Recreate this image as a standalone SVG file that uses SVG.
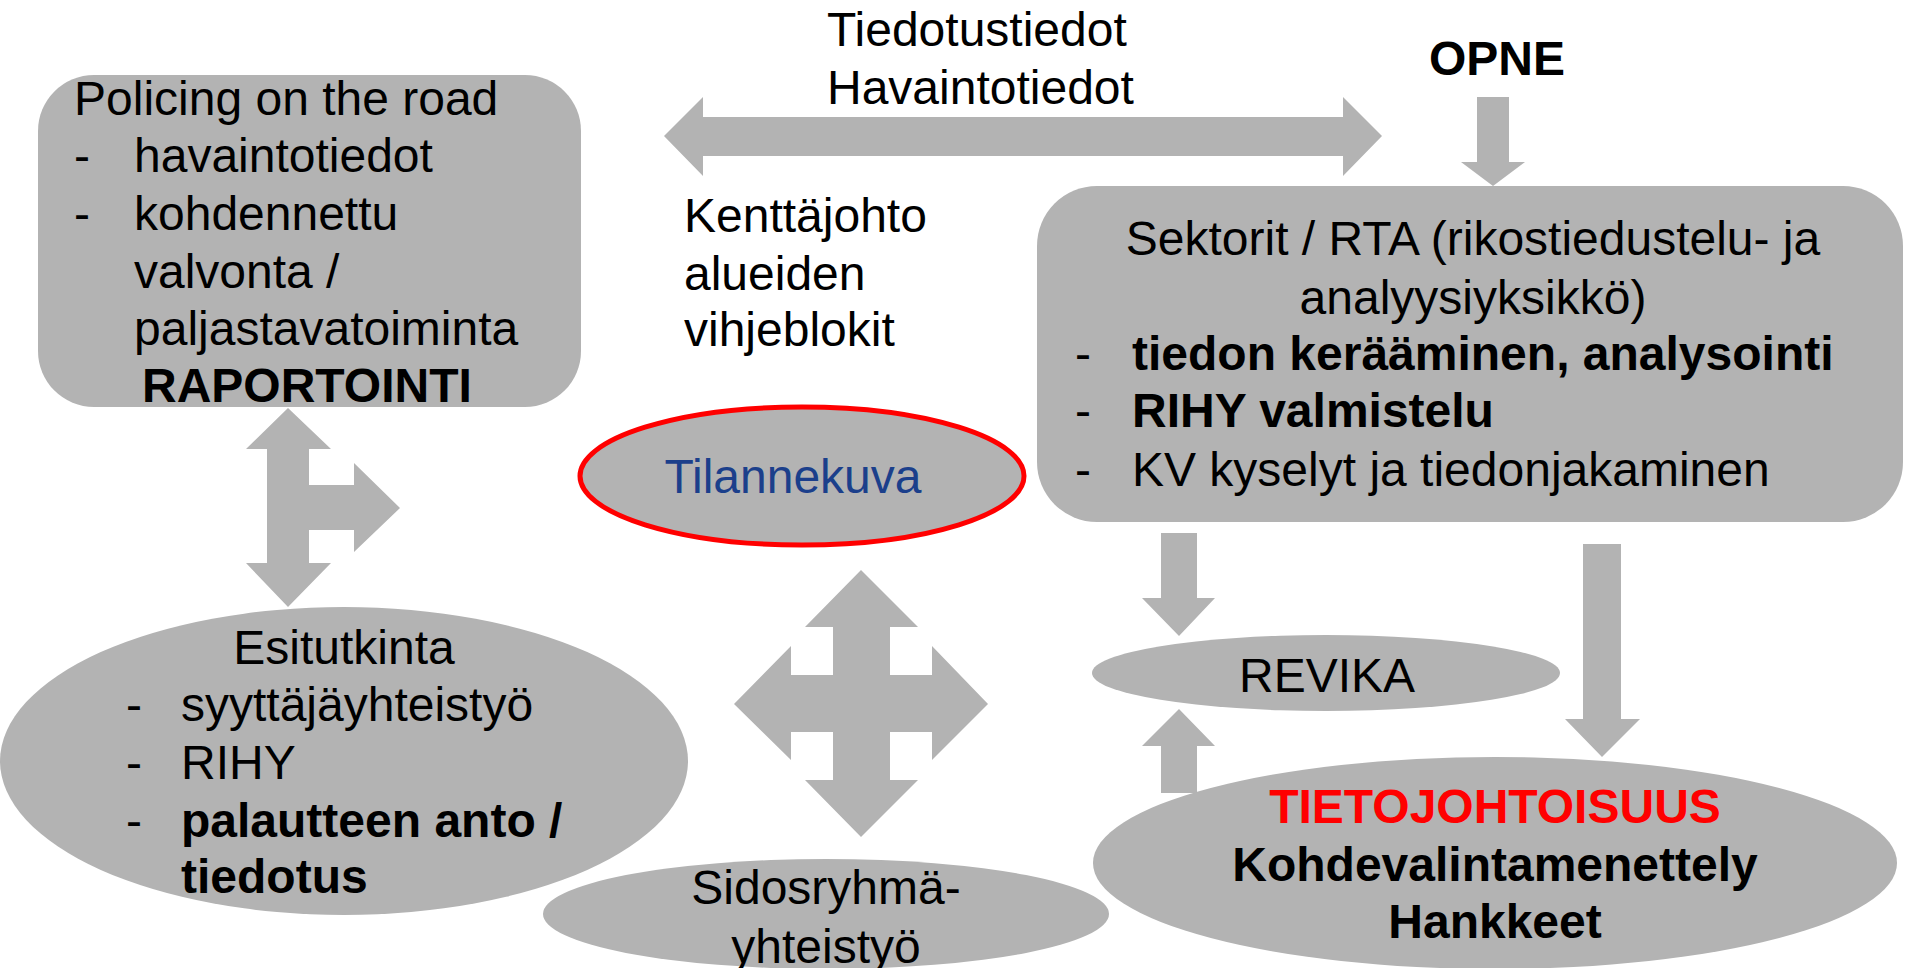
<svg xmlns="http://www.w3.org/2000/svg" width="1905" height="968" viewBox="0 0 1905 968">
<style>
.shape{fill:#B3B3B3;stroke:none}
.arrow{fill:#B3B3B3;stroke:none}
text{font-family:"Liberation Sans",Arial,sans-serif;font-size:48px;fill:#000}
.b{font-weight:bold}
.c{text-anchor:middle}
</style>
<rect width="1905" height="968" fill="#fff"/>
<g id="connectors">
<polygon class="arrow" points="664,136 703,97 703,117 1343,117 1343,97 1382,136 1343,176 1343,156 703,156 703,176"/>
<polygon class="arrow" points="1477,97 1509,97 1509,162 1525,162 1493,186 1461,162 1477,162"/>
<polygon class="arrow" points="288,408 331,449 309,449 309,485 354,485 354,463 400,508 354,552 354,530 309,530 309,563 331,563 288,607 246,563 267,563 267,449 246,449"/>
<polygon class="arrow" points="861,570 918,627 890,627 890,675 932,675 932,646 988,704 932,760 932,732 890,732 890,780 918,780 861,837 805,780 833,780 833,732 791,732 791,760 734,704 791,646 791,675 833,675 833,627 805,627"/>
<polygon class="arrow" points="1161,533 1197,533 1197,598 1215,598 1179,636 1142,598 1161,598"/>
<polygon class="arrow" points="1179,709 1215,746 1197,746 1197,793 1161,793 1161,746 1142,746"/>
<polygon class="arrow" points="1583,544 1621,544 1621,719 1640,719 1602,757 1565,719 1583,719"/>
</g>
<g id="labels-top">
<text x="827" y="46">Tiedotustiedot</text>
<text x="827" y="104">Havaintotiedot</text>
<text x="1429" y="75" class="b">OPNE</text>
<text x="684" y="232">Kenttäjohto</text>
<text x="684" y="290">alueiden</text>
<text x="684" y="346">vihjeblokit</text>
</g>
<g id="policing">
<rect class="shape" x="38" y="75" width="543" height="332" rx="56" ry="56"/>
<text x="74" y="115">Policing on the road</text>
<text x="74" y="172">-</text><text x="134" y="172">havaintotiedot</text>
<text x="74" y="230">-</text><text x="134" y="230">kohdennettu</text>
<text x="134" y="288">valvonta /</text>
<text x="134" y="345">paljastavatoiminta</text>
<text x="142" y="402" class="b">RAPORTOINTI</text>
</g>
<g id="sektorit">
<rect class="shape" x="1037" y="186" width="866" height="336" rx="60" ry="60"/>
<text x="1473" y="255" class="c">Sektorit / RTA (rikostiedustelu- ja</text>
<text x="1473" y="314" class="c">analyysiyksikkö)</text>
<text x="1075" y="370">-</text><text x="1132" y="370" class="b">tiedon kerääminen, analysointi</text>
<text x="1075" y="427">-</text><text x="1132" y="427" class="b">RIHY valmistelu</text>
<text x="1075" y="486">-</text><text x="1132" y="486">KV kyselyt ja tiedonjakaminen</text>
</g>
<g id="tilannekuva">
<ellipse cx="802" cy="476" rx="222" ry="69" fill="#B3B3B3" stroke="#FF0000" stroke-width="5"/>
<text x="793" y="493" class="c" style="fill:#1B3F8B">Tilannekuva</text>
</g>
<g id="esitutkinta">
<ellipse class="shape" cx="344" cy="761" rx="344" ry="154"/>
<text x="344" y="664" class="c">Esitutkinta</text>
<text x="126" y="721">-</text><text x="181" y="721">syyttäjäyhteistyö</text>
<text x="126" y="779">-</text><text x="181" y="779">RIHY</text>
<text x="126" y="837">-</text><text x="181" y="837" class="b">palautteen anto /</text>
<text x="181" y="893" class="b">tiedotus</text>
</g>
<g id="sidosryhma">
<ellipse class="shape" cx="826" cy="914" rx="283" ry="55"/>
<text x="826" y="904" class="c">Sidosryhmä-</text>
<text x="826" y="963" class="c">yhteistyö</text>
</g>
<g id="revika">
<ellipse class="shape" cx="1326" cy="673" rx="234" ry="38"/>
<text x="1327" y="692" class="c">REVIKA</text>
</g>
<g id="tietojohtoisuus">
<ellipse class="shape" cx="1495" cy="863" rx="402" ry="106"/>
<text x="1495" y="823" class="c b" style="fill:#FF0000">TIETOJOHTOISUUS</text>
<text x="1495" y="881" class="c b">Kohdevalintamenettely</text>
<text x="1495" y="938" class="c b">Hankkeet</text>
</g>
</svg>
